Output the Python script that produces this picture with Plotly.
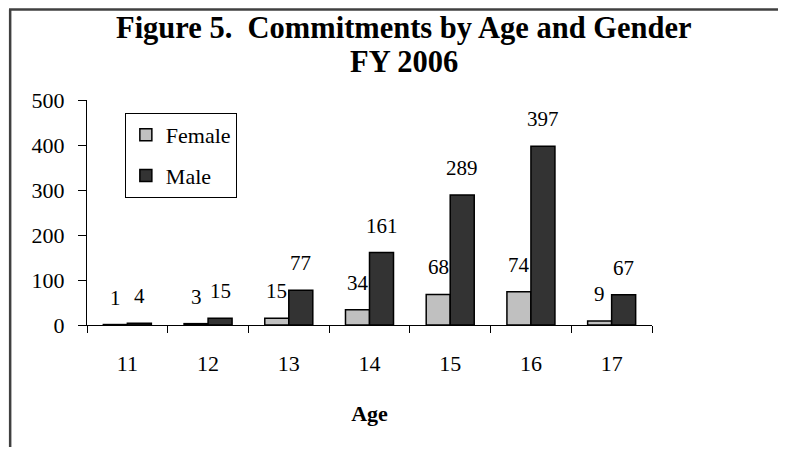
import plotly.graph_objects as go

ages = ["11", "12", "13", "14", "15", "16", "17"]
female = [1, 3, 15, 34, 68, 74, 9]
male = [4, 15, 77, 161, 289, 397, 67]

FONT = "Liberation Serif"

fig = go.Figure()
fig.add_trace(go.Bar(x=ages, y=female, name="Female", legendgroup="f",
                     marker=dict(color="#C0C0C0", line=dict(color="black", width=1.5))))
fig.add_trace(go.Bar(x=ages, y=male, name="Male", legendgroup="m",
                     marker=dict(color="#333333", line=dict(color="black", width=1.5))))

# value labels above each bar (Excel style, a bit higher than plotly's outside text)
annotations = []
for vals, shift in ((female, -12), (male, 12)):
    for i, v in enumerate(vals):
        annotations.append(dict(x=i, y=v, text=str(v), showarrow=False, xref="x", yref="y",
                                xshift=shift, yshift=27, yanchor="middle",
                                font=dict(family=FONT, size=21, color="black")))

# two-line title, one annotation per line
annotations.append(dict(text="<b>Figure 5.  Commitments by Age and Gender</b>",
                        xref="paper", yref="paper", x=0.561, y=1.32, xanchor="center", yanchor="middle",
                        showarrow=False, font=dict(family=FONT, size=30.5, color="black")))
annotations.append(dict(text="<b>FY 2006</b>",
                        xref="paper", yref="paper", x=0.561, y=1.169, xanchor="center", yanchor="middle",
                        showarrow=False, font=dict(family=FONT, size=30.5, color="black")))

# chart frame: only the left and top edges show in the window
frame = [
    dict(type="line", xref="paper", yref="paper", x0=-0.136, x1=-0.136, y0=-0.6, y1=1.402,
         line=dict(color="#404040", width=2.5)),
    dict(type="line", xref="paper", yref="paper", x0=-0.138, x1=1.3, y0=1.402, y1=1.402,
         line=dict(color="#404040", width=2.5)),
]

# page has an 8px body margin; keep the figure small enough to avoid scrollbars
fig.update_layout(
    width=770, height=439,
    margin=dict(l=79, r=126, t=92, b=122),
    paper_bgcolor="white", plot_bgcolor="white",
    barmode="group", bargap=0.405, bargroupgap=0,
    font=dict(family=FONT, size=22, color="black"),
    annotations=annotations,
    legend=dict(x=0.067, y=0.942, xanchor="left", yanchor="top",
                bordercolor="black", borderwidth=1, bgcolor="white",
                traceorder="grouped", tracegroupgap=9,
                font=dict(family=FONT, size=22)),
    shapes=frame,
)
fig.update_xaxes(type="category", range=[-0.5, 6.5], showline=True, linecolor="black", linewidth=1,
                 ticks="outside", tickson="boundaries", ticklen=7, tickcolor="black", tickangle=0,
                 ticklabelstandoff=19,
                 title=dict(text="<b>Age</b>", standoff=30, font=dict(family=FONT, size=22)),
                 tickfont=dict(family=FONT, size=22))
fig.update_yaxes(range=[0, 500], tickvals=[0, 100, 200, 300, 400, 500],
                 showline=True, linecolor="black", linewidth=1,
                 ticks="outside", ticklen=8, tickcolor="black", showgrid=False,
                 ticklabelstandoff=9,
                 zeroline=False, tickfont=dict(family=FONT, size=22))

fig.write_html("out.html")
